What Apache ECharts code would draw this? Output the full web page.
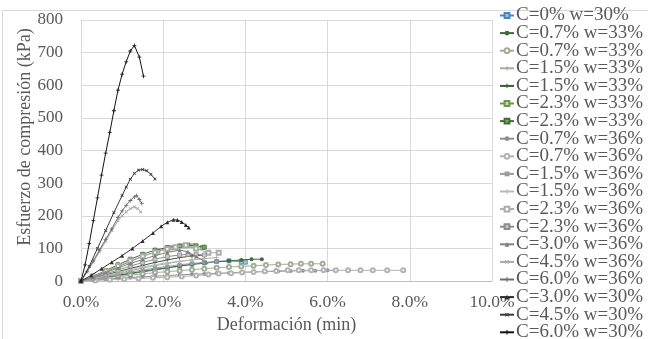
<!DOCTYPE html>
<html>
<head>
<meta charset="utf-8">
<script src="https://cdn.jsdelivr.net/npm/echarts@6/dist/echarts.min.js"></script>
<style>html,body{margin:0;padding:0;background:#fff}#c{width:648px;height:339px}</style>
</head>
<body>
<div id="c"></div>
<script>
const labels = ["C=0% w=30%","C=0.7% w=33%","C=0.7% w=33%","C=1.5% w=33%","C=1.5% w=33%","C=2.3% w=33%","C=2.3% w=33%","C=0.7% w=36%","C=0.7% w=36%","C=1.5% w=36%","C=1.5% w=36%","C=2.3% w=36%","C=2.3% w=36%","C=3.0% w=36%","C=4.5% w=36%","C=6.0% w=36%","C=3.0% w=30%","C=4.5% w=30%","C=6.0% w=30%"];
const xTicks = ["0.0%","2.0%","4.0%","6.0%","8.0%","10.0%"];
const yTicks = [0,100,200,300,400,500,600,700,800];

const eps01 = [0,0.3,0.6,0.9,1.2,1.5,1.8,2.1,2.4,2.7,3.0,3.3,3.6,3.9,4.0];
const sig01 = [0,5,10,16,22,28,34,40,46,52,56,60,62,60,58];
const eps02 = [0,0.3,0.6,0.9,1.2,1.5,1.8,2.1,2.4,2.7,3.0,3.3,3.6,3.9,4.15,4.4];
const sig02 = [0,6,12,18,24,30,36,41,46,51,55,59,62,65,67,67];
const eps03 = [0,0.3,0.6,0.9,1.2,1.5,1.8,2.1,2.4,2.7,3.0,3.3,3.6,3.9,4.2,4.5,4.8,5.1,5.35,5.6,5.88];
const sig03 = [0,5,10,14,18,22,26,29,32,35,38,41,43,45,47,49,51,52,53,53,53];
const eps04 = [0,0.3,0.6,0.9,1.2,1.5,1.8,2.1,2.4,2.7,3.0,3.3];
const sig04 = [0,8,16,24,32,40,47,54,60,65,69,72];
const eps05 = [0,0.3,0.6,0.9,1.2,1.5,1.8,2.1,2.4,2.7,3.0];
const sig05 = [0,9,19,29,39,48,57,65,72,77,80];
const eps06 = [0,0.3,0.6,0.9,1.2,1.5,1.87,2.19,2.52,2.72,2.96];
const sig06 = [0,13,28,44,60,76,92,102,108,108,103];
const eps07 = [0,0.3,0.6,0.9,1.2,1.5,1.8,2.1,2.4,2.6,2.8,3.0];
const sig07 = [0,15,32,50,67,82,95,103,108,110,108,104];
const eps08 = [0,0.3,0.6,0.9,1.2,1.5,1.8,2.1,2.4,2.7,3.0,3.3,3.6,3.9,4.2,4.5,4.8,5.1,5.4,5.7,6.0,6.17];
const sig08 = [0,3,6,8,11,13,15,17,19,21,22,24,25,27,28,29,30,31,32,32,33,33];
const eps09 = [0,0.35,0.7,1.05,1.4,1.75,2.1,2.45,2.8,3.1,3.35,3.65,3.92,4.2,4.47,4.75,5.03,5.3,5.6,5.9,6.2,6.5,6.8,7.1,7.45,7.84];
const sig09 = [0,2,4,6,8,10,12,14,17,20,23,24,26,28,30,31,33,33,33,33,33,33,33,33,33,33];
const eps10 = [0,0.3,0.6,0.9,1.2,1.5,1.8,2.1,2.4,2.7,3.0,3.3];
const sig10 = [0,7,14,21,28,34,40,45,50,54,57,59];
const eps11 = [0,0.3,0.6,0.9,1.2,1.5,1.8,2.1,2.4,2.7,3.0];
const sig11 = [0,8,17,26,35,43,50,56,61,65,68];
const eps12 = [0,0.3,0.6,0.9,1.2,1.5,1.8,2.1,2.3,2.55,2.8,3.1,3.35];
const sig12 = [0,14,30,46,62,76,88,98,104,110,100,87,87];
const eps13 = [0,0.3,0.6,0.9,1.2,1.5,1.8,2.1,2.4,2.6,2.8,3.0];
const sig13 = [0,10,22,34,46,57,67,75,80,82,82,80];
const eps14 = [0,0.3,0.6,0.9,1.2,1.5,1.8,2.1,2.4,2.6,2.8,3.05];
const sig14 = [0,12,26,40,54,66,78,88,95,90,75,58];
const eps15 = [0,0.15,0.3,0.45,0.6,0.75,0.9,1.0,1.1,1.2,1.3,1.38,1.45];
const sig15 = [0,28,58,90,122,155,185,200,212,222,227,222,212];
const eps16 = [0,0.15,0.3,0.45,0.6,0.75,0.9,1.0,1.1,1.2,1.3,1.35,1.42,1.48];
const sig16 = [0,30,62,95,128,160,195,215,232,247,258,262,250,238];
const eps17 = [0,0.25,0.5,0.75,1.0,1.25,1.5,1.75,1.95,2.1,2.25,2.35,2.45,2.55,2.62];
const sig17 = [0,18,38,58,78,100,123,147,168,180,188,187,181,172,164];
const eps18 = [0,0.2,0.4,0.6,0.8,1.0,1.1,1.2,1.3,1.4,1.5,1.6,1.7,1.8];
const sig18 = [0,45,100,155,210,262,288,312,330,340,342,338,327,313];
const eps19 = [0,0.1,0.2,0.3,0.4,0.5,0.6,0.7,0.8,0.9,1.0,1.1,1.2,1.3,1.42,1.52];
const sig19 = [0,50,115,185,255,325,392,455,522,585,634,672,705,722,686,628];

const epsAll = [eps01,eps02,eps03,eps04,eps05,eps06,eps07,eps08,eps09,eps10,eps11,eps12,eps13,eps14,eps15,eps16,eps17,eps18,eps19];
const sigAll = [sig01,sig02,sig03,sig04,sig05,sig06,sig07,sig08,sig09,sig10,sig11,sig12,sig13,sig14,sig15,sig16,sig17,sig18,sig19];

const PLUS = 'path://M4,0H6V4H10V6H6V10H4V6H0V4H4Z';
const DASH = 'path://M0,4H10V6H0Z';
const styles = [
  {c:'#4a84c0', s:'rect', fill:'#9cc3e6'},
  {c:'#3d6a3a', s:'circle', fill:'#3d6a3a'},
  {c:'#a3ad98', s:'emptyCircle'},
  {c:'#a7ada3', s:PLUS},
  {c:'#375c33', s:PLUS},
  {c:'#6f9450', s:'rect', fill:'#c5dcb0'},
  {c:'#416b37', s:'rect', fill:'#7ea56a'},
  {c:'#8f8f8f', s:'circle', fill:'#8f8f8f'},
  {c:'#b3b3b3', s:'emptyCircle'},
  {c:'#9b9b9b', s:DASH},
  {c:'#b8b8b8', s:PLUS},
  {c:'#acacac', s:'emptyRect'},
  {c:'#8d8d8d', s:'rect', fill:'#c8c8c8'},
  {c:'#7f7f7f', s:'triangle'},
  {c:'#a8a8a8', s:PLUS, rot:45},
  {c:'#6b6b6b', s:PLUS},
  {c:'#2e2e2e', s:'triangle'},
  {c:'#3a3a3a', s:PLUS, rot:45},
  {c:'#151515', s:PLUS}
];

// unique internal keys so duplicate legend labels are all kept
const keys = labels.map((n, i) => n + '#' + i);

const series = labels.map((name, i) => {
  const st = styles[i];
  return {
    name: keys[i],
    type: 'line',
    data: epsAll[i].map((x, j) => [x, sigAll[i][j]]),
    symbol: st.s,
    symbolSize: 4,
    symbolRotate: st.rot || 0,
    showSymbol: true,
    lineStyle: {color: st.c, width: 1},
    itemStyle: {color: st.fill || st.c, borderColor: st.c, borderWidth: (st.s === 'rect' ? 0.8 : 0)},
    emphasis: {disabled: true},
    animation: false,
    z: 2 + i
  };
});

const font = 'Liberation Serif';
const chart = echarts.init(document.getElementById('c'), null, {renderer: 'canvas'});
chart.setOption({
  backgroundColor: '#ffffff',
  animation: false,
  grid: {left: 81, top: 20, width: 411, height: 269.5, containLabel: false},
  xAxis: {
    type: 'value', min: 0, max: 10, interval: 2,
    name: 'Deformación (min)', nameLocation: 'middle', nameGap: 32,
    nameTextStyle: {fontFamily: font, fontSize: 18, color: '#595959'},
    axisLine: {show: true, lineStyle: {color: '#bfbfbf'}},
    axisTick: {show: false},
    splitLine: {show: true, lineStyle: {color: '#d9d9d9'}},
    axisLabel: {fontFamily: font, fontSize: 17.5, color: '#595959', margin: 12,
      formatter: v => xTicks[Math.round(v / 2)]}
  },
  yAxis: {
    type: 'value', min: 0, max: 800, interval: 100,
    axisLine: {show: true, lineStyle: {color: '#d9d9d9'}},
    axisTick: {show: false},
    splitLine: {show: true, lineStyle: {color: '#d9d9d9'}},
    axisLabel: {fontFamily: font, fontSize: 17, color: '#595959', margin: 18,
      formatter: v => String(yTicks[Math.round(v / 100)])}
  },
  legend: {
    orient: 'vertical', left: 499, top: 6, height: 420, width: 160, padding: 0,
    itemWidth: 14, itemHeight: 6, itemGap: -1.4,
    textStyle: {fontFamily: font, fontSize: 19, color: '#595959', padding: [0,0,0,-3]},
    data: keys.map(k => ({name: k})),
    formatter: k => labels[keys.indexOf(k)],
    selectedMode: false
  },
  graphic: [
    {type: 'polyline', shape: {points: [[2.5, 339], [2.5, 10.5], [648, 10.5]]}, style: {stroke: '#d9d9d9', fill: null, lineWidth: 1}, silent: true},
    {type: 'text', x: 25, y: 137, rotation: Math.PI / 2,
     style: {text: 'Esfuerzo de compresión (kPa)', font: '18px "Liberation Serif"', fill: '#595959', align: 'center', verticalAlign: 'middle'}}
  ],
  series: series
});
</script>
</body>
</html>
